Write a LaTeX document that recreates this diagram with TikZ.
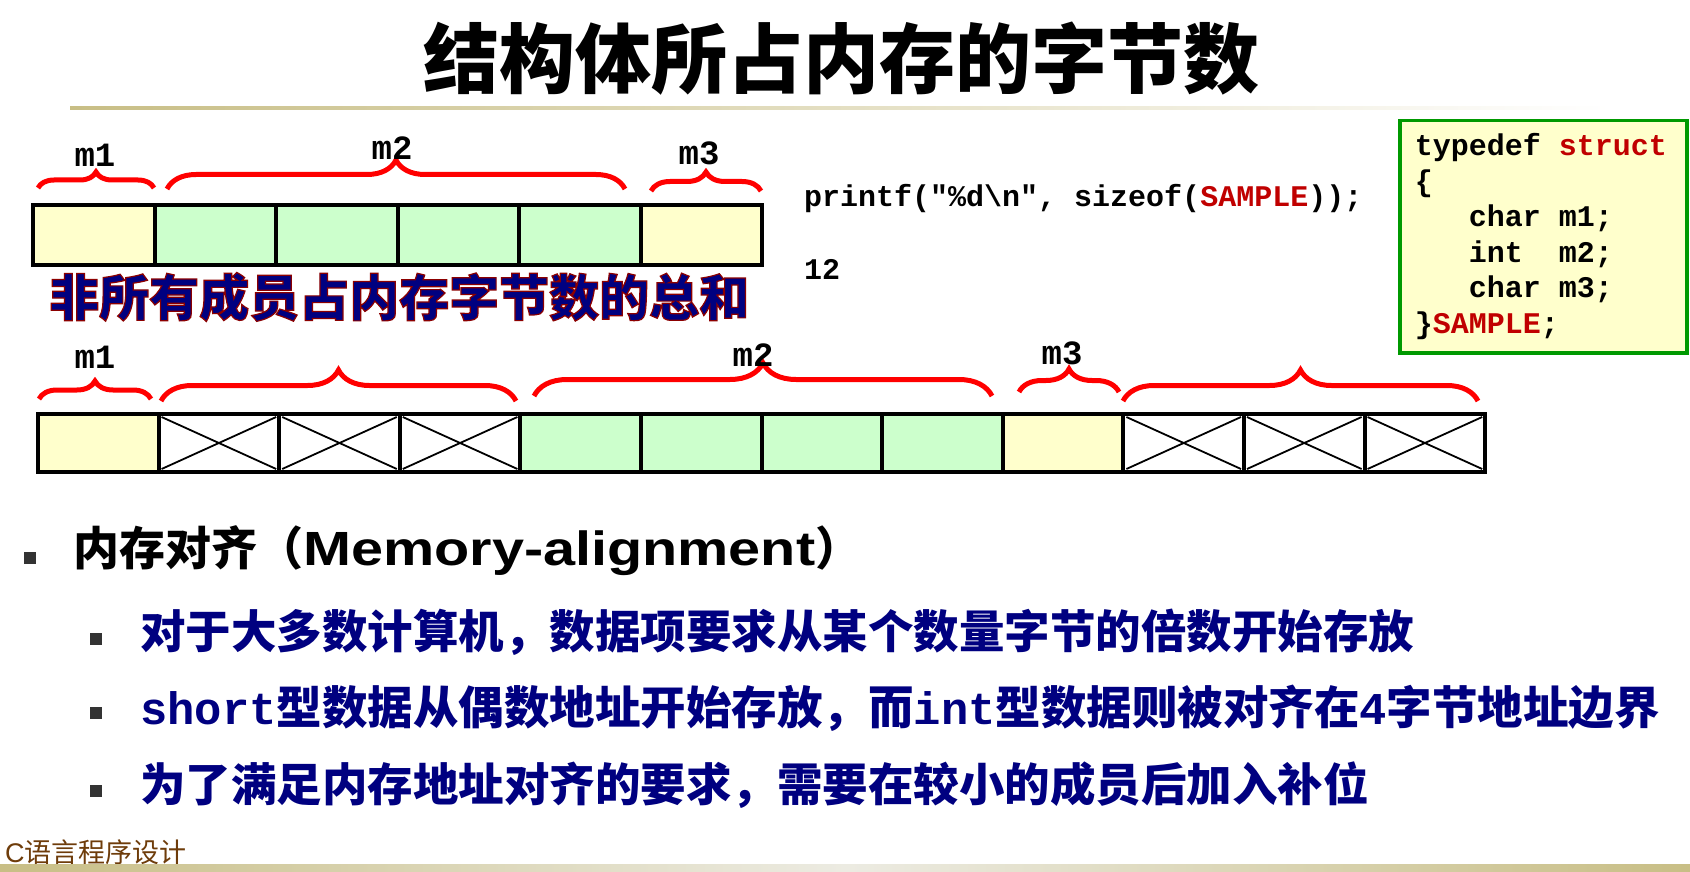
\documentclass[tikz,border=0pt]{standalone}
\usepackage{fontspec}
\setmainfont{Liberation Sans}
\setmonofont{Liberation Mono}
\newfontfamily\cjk{Noto Sans CJK SC}
\newfontfamily\widesans[FakeStretch=1.2]{Liberation Sans}
\usetikzlibrary{decorations.pathreplacing}

\definecolor{charfill}{HTML}{FFFFCC}
\definecolor{intfill}{HTML}{CCFFCC}
\definecolor{codegreen}{HTML}{009900}
\definecolor{kwred}{HTML}{C00000}
\definecolor{bracered}{HTML}{FF0000}
\definecolor{navytext}{HTML}{000080}
\definecolor{footbrown}{HTML}{6E3C0A}
\definecolor{olive}{HTML}{C8BE85}
\definecolor{paleolive}{HTML}{ECEBE2}
\definecolor{bulletgray}{HTML}{333333}

\newcommand{\fsz}[2]{\fontsize{#1pt}{#2pt}\selectfont}
\newcommand{\tsp}{\hspace*{0.6em}}
% navy letters with a dark red rim
\newcommand{\rimtext}[1]{\special{pdf:literal direct 2 Tr 1.2 w 0.55 0 0 RG}#1\special{pdf:literal direct 0 Tr}}

\begin{document}
\begin{tikzpicture}[x=1pt, y=-1pt,
  cell/.style={draw, line width=4pt, anchor=north west, inner sep=0pt},
  chr/.style={cell, fill=charfill},
  intc/.style={cell, fill=intfill},
  padc/.style={cell, fill=white, path picture={
    \draw[line width=1.8pt]
      ([shift={(3pt,-3pt)}]path picture bounding box.north west) -- ([shift={(-3pt,3pt)}]path picture bounding box.south east)
      ([shift={(3pt,3pt)}]path picture bounding box.south west) -- ([shift={(-3pt,-3pt)}]path picture bounding box.north east);}},
  brc/.style={decorate, decoration={brace, amplitude=#1pt}, draw=bracered, line width=5pt},
  lbl/.style={font=\ttfamily\bfseries\fsz{34}{36}},
  code/.style={font=\ttfamily\bfseries\fsz{30}{35.5}, anchor=west, inner sep=0pt},
  sq/.style={fill=bulletgray, minimum size=12pt, inner sep=0pt},
  lvl2/.style={font=\cjk\bfseries\fsz{45.5}{50}, text=navytext, anchor=west, inner sep=0pt}]
  \useasboundingbox (0,0) rectangle (1690,872);

  % Title
  \node[font=\cjk\bfseries\fsz{76}{80}] (title) at (841,59) {结构体所占内存的字节数};
  \shade[left color=olive, right color=white] (70,106.5) rectangle (1611,109.5);

  % Compact layout: 6 bytes
  \foreach \s [count=\i] in {chr,intc,intc,intc,intc,chr}
    \node[\s, minimum width=121.5pt, minimum height=60pt] (a\i) at ({31+(\i-1)*121.5},203) {};
  \draw[brc=16] (38,188) -- (154,188);
  \draw[brc=29] (167,189) -- (625,189);
  \draw[brc=19] (651,191) -- (761,191);
  \node[lbl] (am1) at (95,155) {m1};
  \node[lbl] (am2) at (392,148) {m2};
  \node[lbl] (am3) at (699,153) {m3};

  \node[font=\cjk\bfseries\fsz{50}{54}, text=navytext, anchor=west, inner sep=0pt] (note) at (49,297) {\rimtext{非所有成员占内存字节数的总和}};

  % sizeof and its output
  \node[code] (call) at (804,199) {printf("\%d\textbackslash n",\tsp sizeof(\textcolor{kwred}{SAMPLE}));};
  \node[code] (out) at (804,269) {12};

  % Declaration
  \node[draw=codegreen, line width=3.5pt, fill=charfill, anchor=north west,
        minimum width=287pt, minimum height=232pt, text width=257pt, inner xsep=15pt,
        align=left, font=\ttfamily\bfseries\fsz{30}{35.5}] (decl) at (1398,119)
    {typedef\tsp\textcolor{kwred}{struct}\\
     \{\\
     \hspace*{54pt}char\tsp m1;\\
     \hspace*{54pt}int\tsp\tsp m2;\\
     \hspace*{54pt}char\tsp m3;\\
     \}\textcolor{kwred}{SAMPLE};};

  % Aligned layout: 12 bytes
  \foreach \s [count=\i] in {chr,padc,padc,padc,intc,intc,intc,intc,chr,padc,padc,padc}
    \node[\s, minimum width=120.6pt, minimum height=58pt] (b\i) at ({36+(\i-1)*120.6},412) {};
  \draw[brc=18] (39,399) -- (151,399);
  \draw[brc=31] (161,401) -- (516,401);
  \draw[brc=33] (534,396) -- (992,396);
  \draw[brc=23] (1019,392) -- (1119,392);
  \draw[brc=31] (1123,401) -- (1478,401);
  \node[lbl] (bm1) at (95,357) {m1};
  \node[lbl] (bm2) at (753,355) {m2};
  \node[lbl] (bm3) at (1062,353) {m3};

  % Bullets
  \node[sq] (s0) at (30,558) {};
  \node[font=\cjk\bfseries\fsz{46}{50}, anchor=west, inner sep=0pt] (h0) at (73,551)
    {内存对齐（{\widesans\bfseries\fsz{48}{50}Memory-alignment}）};
  \node[sq] (s1) at (96,639) {};
  \node[lvl2] (t1) at (140,632) {对于大多数计算机，数据项要求从某个数量字节的倍数开始存放};
  \node[sq] (s2) at (96,713) {};
  \node[lvl2] (t2) at (140,708) {{\ttfamily short}型数据从偶数地址开始存放，而{\ttfamily int}型数据则被对齐在{\ttfamily 4}字节地址边界};
  \node[sq] (s3) at (96,791) {};
  \node[lvl2] (t3) at (140,785) {为了满足内存地址对齐的要求，需要在较小的成员后加入补位};

  % Footer
  \node[font=\fsz{27}{30}, text=footbrown, anchor=west, inner sep=0pt] (foot) at (5,852) {C{\cjk 语言程序设计}};
  \shade[left color=olive, right color=olive, middle color=paleolive] (0,864) rectangle (1690,872);
\end{tikzpicture}
\end{document}
